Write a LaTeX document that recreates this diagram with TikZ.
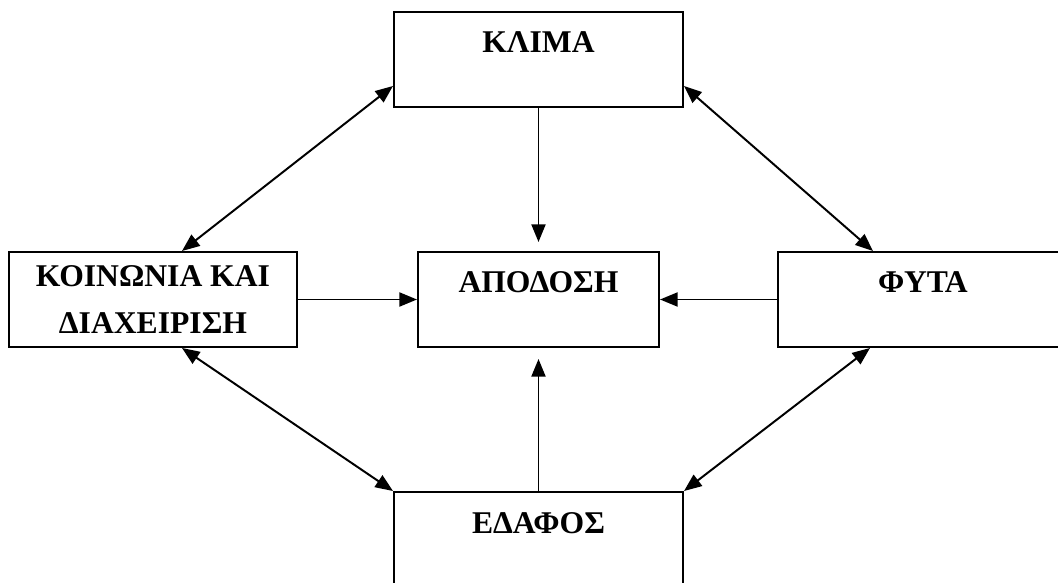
\documentclass[tikz,border=0pt]{standalone}
\usepackage{fontspec}
\setmainfont{Liberation Serif}
\usepackage{tikz}
\usetikzlibrary{positioning,arrows.meta}

\tikzset{
	box/.style={draw,rectangle,line width=1.4pt,inner sep=0pt,font=\fontsize{22.5}{33}\selectfont\bfseries,text height=1.025cm,text depth=1.35cm},
	twoline/.style={draw,rectangle,line width=1.4pt,inner sep=0pt,font=\fontsize{22.5}{33}\selectfont\bfseries,align=center,minimum height=2.375cm},
	link/.style={line width=1.4pt,>={Triangle[length=4.4mm,width=3.5mm]}}
}

\begin{document}
\begin{tikzpicture}[x=0.025cm,y=-0.025cm]
	\useasboundingbox (0,0) rectangle (1058,583);
	% Klima oben
	\node[box,minimum width=7.225cm] (klima) at (538.5,59.5) {ΚΛΙΜΑ};
	% Apodosi in der Mitte
	\node[box,minimum width=6.025cm] (apodosi) at (538.5,299.5) {ΑΠΟΔΟΣΗ};
	% Koinonia links
	\node[twoline,minimum width=7.2cm] (koinonia) at (153,299.5) {ΚΟΙΝΩΝΙΑ ΚΑΙ\\ΔΙΑΧΕΙΡΙΣΗ};
	% Fyta rechts
	\node[box,minimum width=7.25cm] (fyta) at (923,299.5) {ΦΥΤΑ};
	% Edafos unten
	\node[box,minimum width=7.225cm] (edafos) at (538.5,539.5) {ΕΔΑΦΟΣ};
	
	% Pfeile zur Mitte
	\draw[link,->,shorten >=0.225cm] (klima.south) -- (apodosi.north);
	\draw[link,->,shorten >=0.275cm] (edafos.north) -- (apodosi.south);
	\draw[link,->] (koinonia.east) -- (apodosi.west);
	\draw[link,->] (fyta.west) -- (apodosi.east);
	
	% Doppelpfeile aussen
	\draw[link,<->] ([yshift=0.55cm]klima.south west) -- ([xshift=0.725cm]koinonia.north);
	\draw[link,<->] ([yshift=0.55cm]klima.south east) -- ([xshift=-1.25cm]fyta.north);
	\draw[link,<->] ([xshift=0.725cm]koinonia.south) -- (edafos.north west);
	\draw[link,<->] ([xshift=-1.325cm]fyta.south) -- (edafos.north east);
\end{tikzpicture}
\end{document}
